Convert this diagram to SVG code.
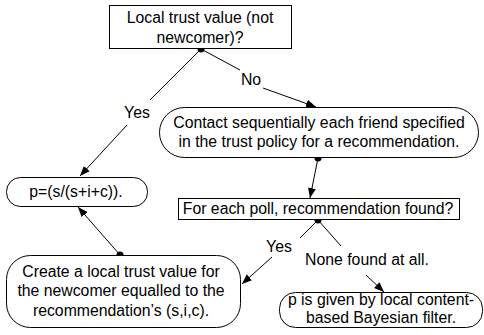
<svg xmlns="http://www.w3.org/2000/svg" width="484" height="335" viewBox="0 0 484 335">
  <defs>
    <marker id="arrow" viewBox="0 0 10 10" refX="10" refY="5" markerWidth="10" markerHeight="10" markerUnits="userSpaceOnUse" orient="auto">
      <path d="M0,1 L10,5 L0,9 Z" fill="#000"/>
    </marker>
  </defs>
  <style>
    .box { fill: #fff; stroke: #000; stroke-width: 1; }
    .lbl { font-family: "Liberation Sans", Arial, sans-serif; font-size: 15.8px; fill: #000; text-anchor: middle; }
    .edge { stroke: #000; stroke-width: 1; fill: none; }
    .dot { fill: #000; }
  </style>
  <rect width="484" height="335" fill="#fff"/>

  <g id="connectors">
    <!-- decision: Yes branch -->
    <line class="edge" x1="201" y1="49" x2="150" y2="100"/>
    <line class="edge" x1="127" y1="125" x2="80" y2="176" marker-end="url(#arrow)"/>
    <!-- decision: No branch -->
    <line class="edge" x1="201" y1="49" x2="240" y2="70"/>
    <line class="edge" x1="263" y1="88" x2="316" y2="107" marker-end="url(#arrow)"/>
    <!-- contact to poll -->
    <line class="edge" x1="318" y1="158" x2="310" y2="198" marker-end="url(#arrow)"/>
    <!-- poll: Yes branch -->
    <line class="edge" x1="318" y1="220" x2="300" y2="238"/>
    <line class="edge" x1="272" y1="257" x2="242" y2="284" marker-end="url(#arrow)"/>
    <!-- poll: none found -->
    <line class="edge" x1="318" y1="220" x2="341" y2="246"/>
    <line class="edge" x1="366" y1="275" x2="384" y2="292" marker-end="url(#arrow)"/>
    <!-- create to formula -->
    <line class="edge" x1="120" y1="255" x2="78" y2="207" marker-end="url(#arrow)"/>
    <circle class="dot" cx="201" cy="49" r="3.5"/>
    <circle class="dot" cx="318" cy="158" r="3.5"/>
    <circle class="dot" cx="318" cy="220" r="3.5"/>
    <circle class="dot" cx="120" cy="255" r="3.5"/>
    <text class="lbl" x="137" y="118">Yes</text>
    <text class="lbl" x="251" y="85">No</text>
    <text class="lbl" x="279" y="252">Yes</text>
    <text class="lbl" x="367" y="265">None found at all.</text>
  </g>

  <g id="node-local-trust">
    <rect class="box" x="109.5" y="5.5" width="182" height="43"/>
    <text class="lbl" x="200" y="23">Local trust value (not</text>
    <text class="lbl" x="200" y="43">newcomer)?</text>
  </g>

  <g id="node-contact">
    <rect class="box" x="159.5" y="107.5" width="319" height="50" rx="25" ry="25"/>
    <text class="lbl" x="319" y="128">Contact sequentially each friend specified</text>
    <text class="lbl" x="319" y="147">in the trust policy for a recommendation.</text>
  </g>

  <g id="node-poll">
    <rect class="box" x="178.5" y="198.5" width="281" height="21"/>
    <text class="lbl" x="318" y="214">For each poll, recommendation found?</text>
  </g>

  <g id="node-formula">
    <rect class="box" x="6.5" y="177.5" width="141" height="29" rx="14" ry="14"/>
    <text class="lbl" x="76" y="197">p=(s/(s+i+c)).</text>
  </g>

  <g id="node-create">
    <rect class="box" x="6.5" y="255.5" width="234" height="72" rx="24" ry="24"/>
    <text class="lbl" x="121" y="277">Create a local trust value for</text>
    <text class="lbl" x="121" y="296">the newcomer equalled to the</text>
    <text class="lbl" x="121" y="316">recommendation’s (s,i,c).</text>
  </g>

  <g id="node-bayesian">
    <rect class="box" x="279.5" y="292.5" width="203" height="35" rx="16" ry="16"/>
    <text class="lbl" x="381" y="305">p is given by local content-</text>
    <text class="lbl" x="381" y="323">based Bayesian filter.</text>
  </g>
</svg>
